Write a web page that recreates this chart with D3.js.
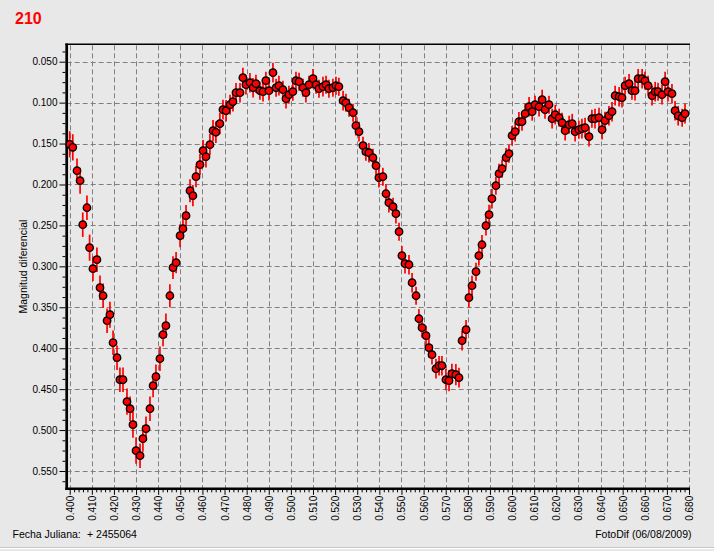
<!DOCTYPE html>
<html>
<head>
<meta charset="utf-8">
<script src="https://cdn.jsdelivr.net/npm/d3@7/dist/d3.min.js"></script>
<style>
  html, body { margin: 0; padding: 0; background: #e8e8e8; }
  svg { display: block; }
  text { font-family: "Liberation Sans", Arial, sans-serif; }
</style>
</head>
<body>
<svg id="chart" width="714" height="551"></svg>
<script>
const title = "210";
const yAxisTitle = "Magnitud diferencial";
const footerLeft = "Fecha Juliana:";
const footerJD = "+ 2455064";
const footerRight = "FotoDif (06/08/2009)";

const xTicks = [0.40,0.41,0.42,0.43,0.44,0.45,0.46,0.47,0.48,0.49,0.50,0.51,0.52,0.53,0.54,0.55,0.56,0.57,0.58,0.59,0.60,0.61,0.62,0.63,0.64,0.65,0.66,0.67,0.68];
const yTicks = [0.05,0.10,0.15,0.20,0.25,0.30,0.35,0.40,0.45,0.50,0.55];

const phase = [
0.4000,0.4014,0.4033,0.4047,0.4059,0.4078,0.4090,0.4105,0.4123,0.4137,
0.4151,0.4169,0.4182,0.4196,0.4214,0.4227,0.4241,0.4259,0.4273,0.4286,
0.4300,0.4318,0.4331,0.4345,0.4363,0.4377,0.4390,0.4408,0.4422,0.4435,
0.4453,0.4467,0.4481,0.4499,0.4512,0.4526,0.4544,0.4557,0.4571,0.4589,
0.4603,0.4616,0.4634,0.4648,0.4661,0.4679,0.4693,0.4707,0.4725,0.4738,
0.4752,0.4770,0.4783,0.4797,0.4815,0.4829,0.4842,0.4860,0.4874,0.4887,
0.4901,0.4919,0.4933,0.4946,0.4964,0.4978,0.4991,0.5009,0.5023,0.5037,
0.5055,0.5068,0.5082,0.5100,0.5114,0.5127,0.5145,0.5159,0.5172,0.5190,
0.5204,0.5217,0.5236,0.5249,0.5263,0.5281,0.5294,0.5308,0.5326,0.5339,
0.5353,0.5371,0.5385,0.5398,0.5416,0.5430,0.5443,0.5462,0.5475,0.5489,
0.5502,0.5516,0.5534,0.5548,0.5566,0.5579,0.5593,0.5611,0.5624,0.5638,
0.5656,0.5670,0.5683,0.5701,0.5715,0.5728,0.5746,0.5760,0.5774,0.5792,
0.5805,0.5819,0.5837,0.5850,0.5864,0.5882,0.5896,0.5909,0.5927,0.5941,
0.5955,0.5973,0.5986,0.6000,0.6014,0.6031,0.6045,0.6059,0.6077,0.6091,
0.6104,0.6122,0.6136,0.6149,0.6167,0.6181,0.6195,0.6213,0.6226,0.6240,
0.6258,0.6272,0.6285,0.6302,0.6316,0.6330,0.6348,0.6361,0.6375,0.6393,
0.6407,0.6420,0.6438,0.6452,0.6466,0.6484,0.6497,0.6511,0.6529,0.6542,
0.6556,0.6570,0.6588,0.6601,0.6615,0.6633,0.6647,0.6660,0.6678,0.6692,
0.6705,0.6723,0.6737,0.6751,0.6769,0.6782
];

const mag = [
0.1509,0.1546,0.1832,0.1954,0.2491,0.2284,0.2772,0.3029,0.2919,0.3261,
0.3359,0.3664,0.3591,0.3933,0.4116,0.4385,0.4385,0.4653,0.4739,0.4934,
0.5252,0.5313,0.5105,0.4983,0.4739,0.4458,0.4348,0.4128,0.3835,0.3725,
0.3359,0.3016,0.2955,0.2626,0.2540,0.2381,0.2076,0.2137,0.1905,0.1758,
0.1587,0.1661,0.1514,0.1343,0.1362,0.1257,0.1086,0.1099,0.1025,0.0989,
0.0879,0.0879,0.0695,0.0781,0.0757,0.0818,0.0769,0.0854,0.0866,0.0732,
0.0854,0.0634,0.0818,0.0793,0.0842,0.0952,0.0903,0.0866,0.0732,0.0744,
0.0818,0.0879,0.0781,0.0708,0.0781,0.0830,0.0805,0.0781,0.0830,0.0818,
0.0793,0.0805,0.0976,0.1001,0.1062,0.1123,0.1282,0.1355,0.1526,0.1599,
0.1612,0.1673,0.1770,0.1917,0.1905,0.2113,0.2222,0.2271,0.2357,0.2577,
0.2870,0.2968,0.2980,0.3200,0.3359,0.3640,0.3749,0.3847,0.3994,0.4079,
0.4250,0.4214,0.4214,0.4385,0.4397,0.4311,0.4324,0.4360,0.3908,0.3774,
0.3383,0.3236,0.3065,0.2870,0.2736,0.2503,0.2369,0.2174,0.2015,0.1868,
0.1807,0.1673,0.1624,0.1404,0.1355,0.1233,0.1233,0.1135,0.1050,0.1111,
0.1025,0.1050,0.0964,0.1086,0.1025,0.1196,0.1147,0.1184,0.1245,0.1343,
0.1270,0.1257,0.1355,0.1331,0.1318,0.1306,0.1416,0.1196,0.1196,0.1184,
0.1331,0.1221,0.1160,0.1111,0.0915,0.0928,0.0940,0.0793,0.0769,0.0854,
0.0854,0.0708,0.0708,0.0732,0.0793,0.0915,0.0866,0.0866,0.0903,0.0744,
0.0866,0.0891,0.1099,0.1160,0.1184,0.1135
];

const err = [
0.016,0.016,0.015,0.016,0.015,0.015,0.016,0.015,0.015,0.015,
0.015,0.015,0.016,0.015,0.015,0.015,0.015,0.016,0.015,0.016,
0.016,0.015,0.016,0.015,0.015,0.014,0.015,0.015,0.014,0.015,
0.014,0.014,0.013,0.014,0.013,0.013,0.014,0.013,0.013,0.013,
0.013,0.013,0.013,0.013,0.013,0.013,0.012,0.013,0.012,0.012,
0.012,0.012,0.012,0.012,0.012,0.012,0.011,0.011,0.012,0.011,
0.012,0.012,0.011,0.012,0.011,0.012,0.011,0.011,0.011,0.011,
0.011,0.012,0.011,0.012,0.011,0.011,0.012,0.011,0.011,0.011,
0.011,0.011,0.012,0.011,0.011,0.011,0.012,0.012,0.011,0.011,
0.012,0.011,0.012,0.012,0.011,0.012,0.012,0.011,0.012,0.011,
0.012,0.012,0.012,0.012,0.011,0.012,0.012,0.012,0.012,0.012,
0.012,0.012,0.012,0.013,0.013,0.012,0.013,0.012,0.012,0.012,
0.012,0.012,0.011,0.012,0.012,0.012,0.012,0.012,0.011,0.012,
0.011,0.012,0.011,0.012,0.012,0.012,0.011,0.012,0.012,0.011,
0.011,0.012,0.012,0.011,0.011,0.012,0.012,0.011,0.012,0.012,
0.011,0.012,0.012,0.011,0.012,0.012,0.012,0.011,0.012,0.012,
0.012,0.011,0.012,0.012,0.012,0.012,0.012,0.011,0.012,0.011,
0.012,0.012,0.012,0.011,0.012,0.012,0.012,0.011,0.012,0.012,
0.012,0.012,0.012,0.012,0.011,0.012
];

const data = phase.map((p, i) => ({p, m: mag[i], e: err[i]}));

const svg = d3.select("#chart");
const plot = {left: 66.7, right: 689.5, top: 44.3, bottom: 488.8};

const x = d3.scaleLinear().domain([0.40, 0.68]).range([69.7, 689]);
const y = d3.scaleLinear().domain([0.05, 0.55]).range([61.7, 471]);

svg.append("rect").attr("x", 0).attr("y", 0).attr("width", 714).attr("height", 551).attr("fill", "#e8e8e8");

svg.append("text").attr("x", 15).attr("y", 23.5)
  .attr("fill", "#ff0000").attr("font-size", 16).attr("font-weight", "bold").text(title);

const grid = svg.append("g").attr("stroke", "#808080").attr("stroke-width", 1).attr("stroke-dasharray", "5,3").attr("fill", "none");
grid.selectAll("line.v").data(xTicks).join("line").attr("class", "v")
  .attr("x1", d => Math.round(x(d)) + 0.5).attr("x2", d => Math.round(x(d)) + 0.5)
  .attr("y1", plot.top + 1).attr("y2", plot.bottom);
grid.selectAll("line.h").data(yTicks).join("line").attr("class", "h")
  .attr("y1", d => Math.round(y(d)) + 0.5).attr("y2", d => Math.round(y(d)) + 0.5)
  .attr("x1", plot.left).attr("x2", plot.right);

const yMinor = d3.range(0.0375, 0.57, 0.0125).filter(v => Math.abs(v / 0.05 - Math.round(v / 0.05)) > 1e-6);
const xMinor = d3.range(0.400, 0.6801, 0.002).filter(v => Math.abs(v / 0.01 - Math.round(v / 0.01)) > 1e-6);

const yAxisG = svg.append("g").attr("transform", `translate(${plot.left - 1.2},0)`)
  .call(d3.axisLeft(y).tickValues(yTicks).tickSize(6).tickPadding(2).tickFormat(d3.format(".3f")));
yAxisG.select(".domain").remove();
yAxisG.selectAll("text").attr("font-size", 10).attr("font-family", "Liberation Sans, Arial, sans-serif").attr("fill", "#000");
yAxisG.selectAll(".tick line").attr("stroke", "#000");

const yMinorG = svg.append("g").attr("transform", `translate(${plot.left - 1.2},0)`)
  .call(d3.axisLeft(y).tickValues(yMinor).tickSize(3).tickFormat(""));
yMinorG.select(".domain").remove();

const xAxisG = svg.append("g").attr("transform", `translate(0,${plot.bottom + 1})`)
  .call(d3.axisBottom(x).tickValues(xTicks).tickSize(5).tickFormat(d3.format(".3f")));
xAxisG.select(".domain").remove();
xAxisG.selectAll(".tick line").attr("stroke", "#000");
xAxisG.selectAll("text")
  .attr("font-size", 10).attr("font-family", "Liberation Sans, Arial, sans-serif").attr("fill", "#000")
  .attr("transform", "rotate(-90)")
  .attr("text-anchor", "end").attr("dy", "0.35em").attr("dx", 0)
  .attr("x", -6).attr("y", 0);

const xMinorG = svg.append("g").attr("transform", `translate(0,${plot.bottom + 1})`)
  .call(d3.axisBottom(x).tickValues(xMinor).tickSize(2.5).tickFormat(""));
xMinorG.select(".domain").remove();

svg.append("line").attr("x1", plot.left - 1.3).attr("x2", 690).attr("y1", plot.top).attr("y2", plot.top)
  .attr("stroke", "#000").attr("stroke-width", 1.6);
svg.append("line").attr("x1", plot.left).attr("x2", plot.left).attr("y1", plot.top - 0.8).attr("y2", plot.bottom + 1.3)
  .attr("stroke", "#000").attr("stroke-width", 2.7);
svg.append("line").attr("x1", plot.left - 1.3).attr("x2", 690).attr("y1", plot.bottom).attr("y2", plot.bottom)
  .attr("stroke", "#000").attr("stroke-width", 2.5);

const marks = svg.append("g");
marks.selectAll("line.err").data(data).join("line").attr("class", "err")
  .attr("x1", d => x(d.p)).attr("x2", d => x(d.p))
  .attr("y1", d => y(d.m - d.e)).attr("y2", d => y(d.m + d.e))
  .attr("stroke", "#ff0000").attr("stroke-width", 1.7);

marks.selectAll("circle").data(data).join("circle")
  .attr("cx", d => x(d.p)).attr("cy", d => y(d.m)).attr("r", 3.7)
  .attr("fill", "#ff0000").attr("stroke", "#000").attr("stroke-width", 1.4);

svg.append("text").attr("transform", `translate(27,${(plot.top + plot.bottom) / 2}) rotate(-90)`)
  .attr("text-anchor", "middle").attr("font-size", 10.5).attr("fill", "#000").text(yAxisTitle);

svg.append("text").attr("x", 12.5).attr("y", 538).attr("font-size", 10.5).attr("fill", "#000").text(footerLeft);
svg.append("text").attr("x", 87).attr("y", 538).attr("font-size", 10.5).attr("fill", "#000").text(footerJD);
svg.append("text").attr("x", 691.5).attr("y", 538).attr("text-anchor", "end").attr("font-size", 10.5).attr("fill", "#000").text(footerRight);

svg.append("line").attr("x1", 0).attr("x2", 714).attr("y1", 547.5).attr("y2", 547.5).attr("stroke", "#c8c8c8").attr("stroke-width", 1);
svg.append("line").attr("x1", 0).attr("x2", 714).attr("y1", 548.5).attr("y2", 548.5).attr("stroke", "#ffffff").attr("stroke-width", 1);
</script>
</body>
</html>
